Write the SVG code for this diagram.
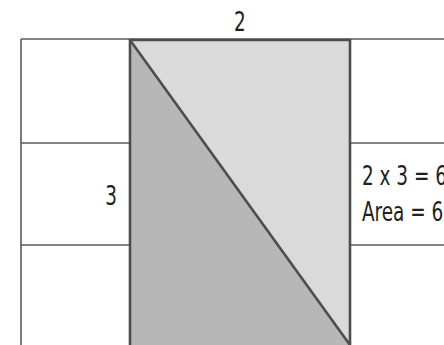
<svg xmlns="http://www.w3.org/2000/svg" width="444" height="345" viewBox="0 0 444 345">
<style>
.grid{stroke:#5a5a5a;stroke-width:1.6;fill:none}
.edge{stroke:#4d4d4d;stroke-width:2.6;fill:none}
.lbl{font-family:"DejaVu Sans Condensed","DejaVu Sans",sans-serif;font-stretch:condensed;font-size:27px;fill:#231f20}
</style>
<rect width="444" height="345" fill="#ffffff"/>
<g id="grid">
<line class="grid" x1="21" y1="39" x2="444" y2="39"/>
<line class="grid" x1="21" y1="39" x2="21" y2="345"/>
<line class="grid" x1="21" y1="143" x2="444" y2="143"/>
<line class="grid" x1="21" y1="245" x2="444" y2="245"/>
</g>
<g id="rectangle">
<polygon points="130,40 350,40 350,345" fill="#dadada"/>
<polygon points="130,40 350,345 130,345" fill="#b7b7b7"/>
<polyline class="edge" points="130,345 130,40 350,40 350,345"/>
<line class="edge" x1="130" y1="40" x2="350" y2="345"/>
</g>
<g id="labels">
<text class="lbl" x="240" y="31" text-anchor="middle" transform="translate(240 0) scale(0.76 1) translate(-240 0)">2</text>
<text class="lbl" x="117" y="205" text-anchor="end" transform="translate(117 0) scale(0.76 1) translate(-117 0)">3</text>
<text class="lbl" x="362" y="185" transform="translate(362 0) scale(0.76 1) translate(-362 0)">2 x 3 = 6</text>
<text class="lbl" x="362" y="221" transform="translate(362 0) scale(0.76 1) translate(-362 0)">Area = 6</text>
</g>
</svg>
